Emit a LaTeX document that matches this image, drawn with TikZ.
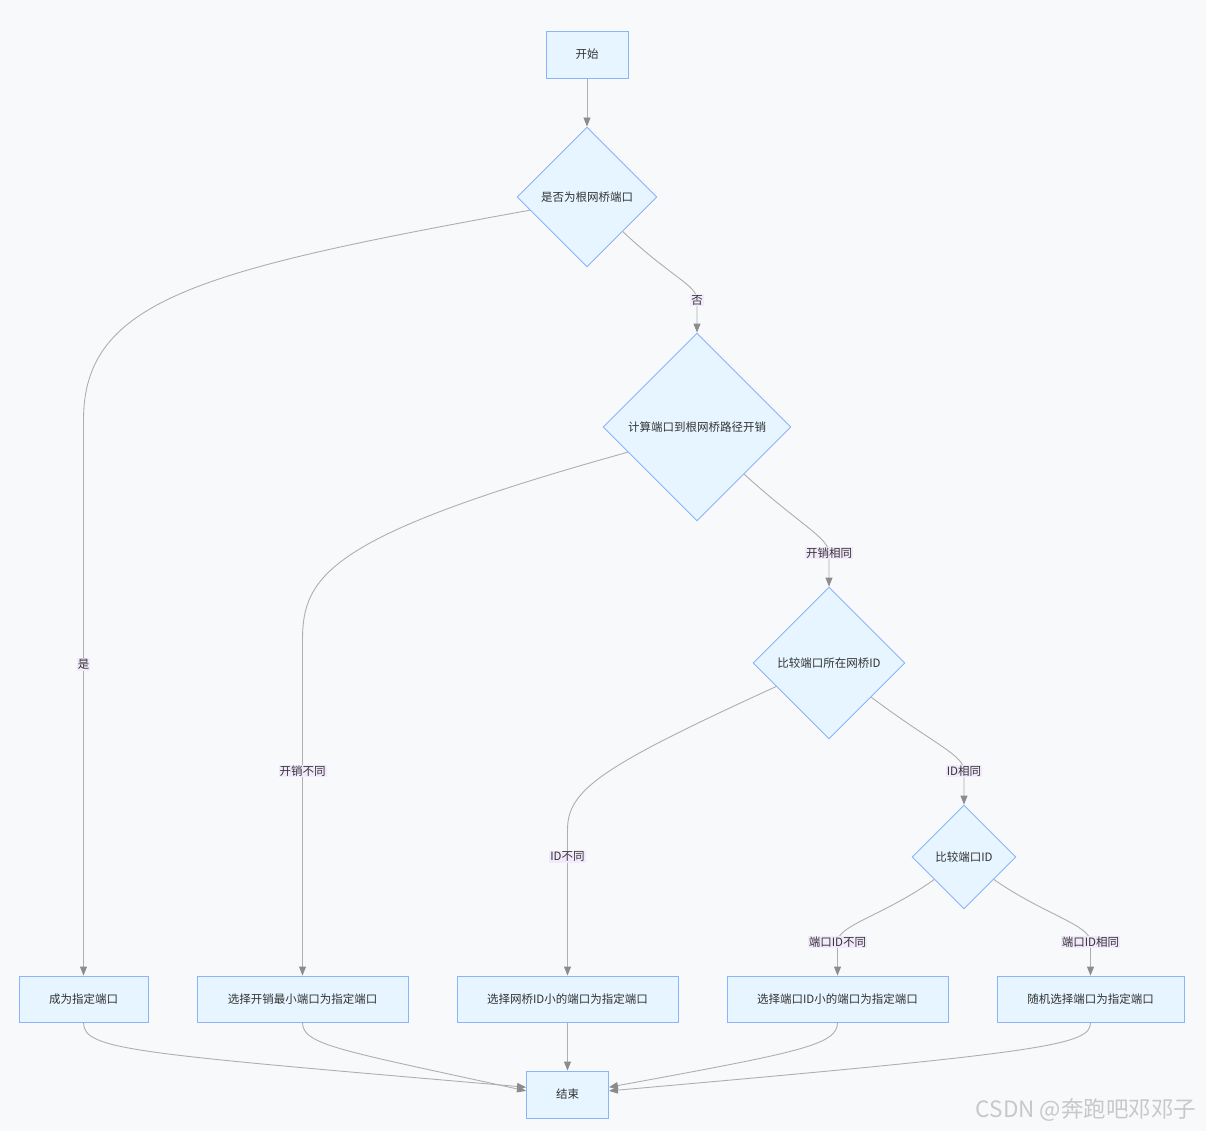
\documentclass[tikz,border=0pt]{standalone}
\usepackage{fontspec}
\setmainfont{Noto Sans CJK SC}
\usetikzlibrary{shapes.geometric,arrows.meta}
\definecolor{bgcol}{RGB}{248,249,251}
\definecolor{boxfill}{RGB}{230,245,255}
\definecolor{boxline}{RGB}{140,180,250}
\definecolor{linkcol}{RGB}{175,175,175}
\definecolor{tipcol}{RGB}{140,140,140}
\definecolor{labelfill}{RGB}{243,233,252}
\definecolor{markcol}{RGB}{200,200,200}

\begin{document}
\begin{tikzpicture}[x=1pt, y=-1pt, font=\fontsize{11.5}{14}\selectfont, text=black!80,
  block/.style = {draw=boxline, fill=boxfill, line width=0.9pt, minimum height=46pt, inner sep=0pt},
  decision/.style = {draw=boxline, fill=boxfill, diamond, aspect=1, line width=0.9pt, inner sep=1pt},
  link/.style = {draw=linkcol, line width=0.9pt, -{Triangle[length=9pt,width=7pt,color=tipcol]}},
  elabel/.style = {fill=labelfill, inner sep=1pt}]
  \useasboundingbox (0,0) rectangle (1206,1131);
  \fill[bgcol] (0,0) rectangle (1206,1131);

  \node[block, minimum width=82pt, minimum height=47pt] (start) at (587,54.5) {开始};
  \node[decision, minimum size=140pt] (root) at (587,197) {是否为根网桥端口};
  \node[decision, minimum size=188pt] (cost) at (697,427) {计算端口到根网桥路径开销};
  \node[decision, minimum size=152pt] (bridge) at (829,663) {比较端口所在网桥ID};
  \node[decision, minimum size=104pt] (port) at (964,857) {比较端口ID};
  \node[block, minimum width=129pt] (self) at (83.5,999) {成为指定端口};
  \node[block, minimum width=211pt] (mincost) at (302.5,999) {选择开销最小端口为指定端口};
  \node[block, minimum width=221pt] (minbridge) at (567.5,999) {选择网桥ID小的端口为指定端口};
  \node[block, minimum width=221pt] (minport) at (837.5,999) {选择端口ID小的端口为指定端口};
  \node[block, minimum width=187pt] (random) at (1090.5,999) {随机选择端口为指定端口};
  \node[block, minimum width=82pt, minimum height=47pt] (end) at (567.5,1094.5) {结束};

  \draw[link] (start) -- (root);
  \draw[link] (root.193) .. controls (200,270) and (83.5,300) .. (83.5,420)
    -- node[elabel, pos=0.44] {是} (self.north);
  \draw[link] (root.-44) .. controls (672,278) and (697,285) .. (697,300) node[elabel] {否}
    -- (cost.north);
  \draw[link] (cost.200) .. controls (330,535) and (302.5,575) .. (302.5,640)
    -- node[elabel, pos=0.39] {开销不同} (mincost.north);
  \draw[link] (cost.-45) .. controls (800,525) and (829,538) .. (829,553) node[elabel] {开销相同}
    -- (bridge.north);
  \draw[link] (bridge.204) .. controls (600,767) and (567.5,790) .. (567.5,830)
    -- node[elabel, pos=0.185] {ID不同} (minbridge.north);
  \draw[link] (bridge.-39) .. controls (935,745) and (964,755) .. (964,771) node[elabel] {ID相同}
    -- (port.north);
  \draw[link] (port.217) .. controls (885,915) and (837.5,925) .. (837.5,942) node[elabel] {端口ID不同}
    -- (minport.north);
  \draw[link] (port.-37) .. controls (1045,915) and (1090.5,925) .. (1090.5,942) node[elabel] {端口ID相同}
    -- (random.north);

  \draw[link] (self.south) .. controls (83.5,1050) and (130,1053) .. (end.170);
  \draw[link] (mincost.south) .. controls (302.5,1045) and (340,1050) .. (end.175);
  \draw[link] (minbridge) -- (end);
  \draw[link] (minport.south) .. controls (837.5,1045) and (800,1052) .. (end.10);
  \draw[link] (random.south) .. controls (1090.5,1045) and (1050,1052) .. (end.5);

  \node[text=markcol, font=\fontsize{22.5}{26}\selectfont] (mark) at (1086,1110) {CSDN @奔跑吧邓邓子};
\end{tikzpicture}
\end{document}
